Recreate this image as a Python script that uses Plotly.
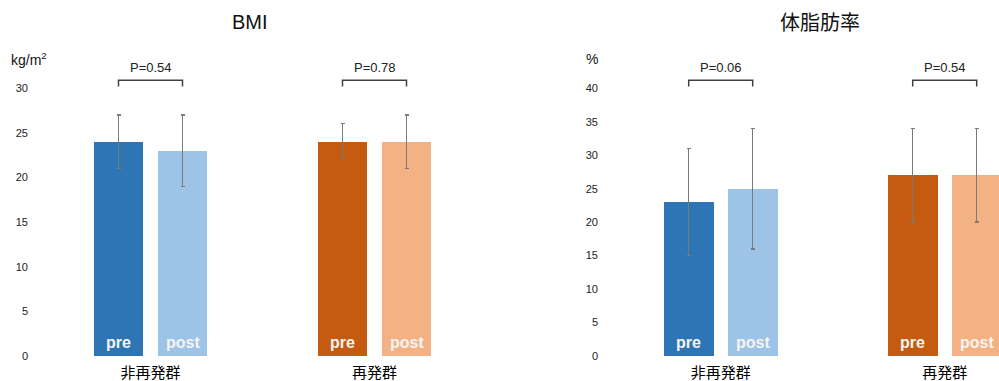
import plotly.graph_objects as go

# ---------------- data ----------------
groups = ["非再発群", "再発群"]
phases = ["pre", "post"]
bmi_mean = [24, 23, 24, 24]
bmi_sd = [3, 4, 2, 3]
bmi_p = ["P=0.54", "P=0.78"]
fat_mean = [23, 25, 27, 27]
fat_sd = [8, 9, 7, 7]
fat_p = ["P=0.06", "P=0.54"]
bmi_ticks = [0, 5, 10, 15, 20, 25, 30]
fat_ticks = [0, 5, 10, 15, 20, 25, 30, 35, 40]
panel_titles = ["BMI", "体脂肪率"]
panel_units = ["kg/m<sup>2</sup>", "%"]

colors = ["#2E75B6", "#9DC3E6", "#C55A11", "#F4B183"]

W, H = 999, 381
LATIN = "Liberation Sans, Arial, sans-serif"
CJK = "Noto Sans CJK JP, sans-serif"

# positions of bars (pre/post within group, groups apart)
GROUP_STEP = 3.5
xpos = [g * GROUP_STEP + p for g in range(len(groups)) for p in range(len(phases))]
gcenters = [g * GROUP_STEP + 0.5 for g in range(len(groups))]
BAR_W = 0.78

PX_PER_UNIT_X = 64.0
zero_px = 356.0
ydom = [(H - zero_px) / H, 1.0]

fig = go.Figure()

panels = [
    dict(mean=bmi_mean, sd=bmi_sd, p=bmi_p, ticks=bmi_ticks, ppu=268 / 30,
         dom_px=(33, 499), x0_px=118.5, xa="x", ya="y", unit_x=9, unit_anchor="left", title_x=250, title_y=22),
    dict(mean=fat_mean, sd=fat_sd, p=fat_p, ticks=fat_ticks, ppu=267.7 / 40,
         dom_px=(603, 999), x0_px=688.7, xa="x2", ya="y2", unit_x=592, unit_anchor="center", title_x=820, title_y=21),
]

annotations = []
shapes = []
for i, pn in enumerate(panels):
    fig.add_trace(go.Bar(
        x=xpos, y=pn["mean"], width=BAR_W,
        marker=dict(color=colors, line=dict(width=0)),
        error_y=dict(type="data", array=pn["sd"], visible=True, color="#7a7a7a", thickness=1.4, width=2),
        xaxis=pn["xa"], yaxis=pn["ya"], showlegend=False, hoverinfo="skip",
    ))
    d0, d1 = pn["dom_px"]
    xstart = -(pn["x0_px"] - d0) / PX_PER_UNIT_X
    xend = xstart + (d1 - d0) / PX_PER_UNIT_X
    ymax = zero_px / pn["ppu"]
    suffix = "" if i == 0 else "2"
    fig.update_layout(**{
        "xaxis" + suffix: dict(domain=[d0 / W, d1 / W], range=[xstart, xend], anchor="y" + suffix,
                               tickvals=gcenters, ticktext=groups, showgrid=False, zeroline=False,
                               showline=False, ticks="", tickfont=dict(family=CJK, size=15, color="#000"),
                               ticklabelstandoff=6, automargin=False, fixedrange=True),
        "yaxis" + suffix: dict(domain=ydom, range=[0, ymax], anchor="x" + suffix,
                               tickvals=pn["ticks"], showgrid=False, zeroline=False, showline=False,
                               ticks="", tickfont=dict(family=LATIN, size=11, color="#222"),
                               ticklabelstandoff=4, automargin=False, fixedrange=True),
    })
    # pre/post labels inside bars
    for k, xv in enumerate(xpos):
        annotations.append(dict(x=xv, y=0, xref=pn["xa"], yref=pn["ya"], text="<b>%s</b>" % phases[k % 2],
                                showarrow=False, yanchor="middle", yshift=14,
                                font=dict(family=LATIN, size=16, color="#f5f5f5")))
    # p-value brackets
    top_v = (zero_px - 80.3) / pn["ppu"]
    foot_v = (zero_px - 86.5) / pn["ppu"]
    text_v = (zero_px - 67.5) / pn["ppu"]
    for g in range(len(groups)):
        xa_, xb_ = xpos[2 * g], xpos[2 * g + 1]
        shapes.append(dict(type="path", xref=pn["xa"], yref=pn["ya"],
                           path="M %f %f L %f %f L %f %f L %f %f" % (xa_, foot_v, xa_, top_v, xb_, top_v, xb_, foot_v),
                           line=dict(color="#404040", width=1.5)))
        annotations.append(dict(x=gcenters[g], y=text_v, xref=pn["xa"], yref=pn["ya"], text=pn["p"][g],
                                showarrow=False, yanchor="middle",
                                font=dict(family=LATIN, size=13, color="#222")))
    # titles and unit labels
    annotations.append(dict(x=pn["title_x"] / W, y=1 - pn["title_y"] / H, xref="paper", yref="paper",
                            text=panel_titles[i], showarrow=False, xanchor="center", yanchor="middle",
                            font=dict(family=LATIN if i == 0 else CJK, size=20, color="#111")))
    annotations.append(dict(x=pn["unit_x"] / W, y=1 - 59 / H, xref="paper", yref="paper",
                            text=panel_units[i], showarrow=False, xanchor=pn["unit_anchor"], yanchor="middle",
                            font=dict(family=LATIN, size=14, color="#111")))

fig.update_layout(
    width=W, height=H, autosize=False,
    margin=dict(l=0, r=0, t=0, b=0),
    paper_bgcolor="white", plot_bgcolor="white",
    bargap=0, annotations=annotations, shapes=shapes,
)

fig.write_html("out.html", config={"displayModeBar": False})
